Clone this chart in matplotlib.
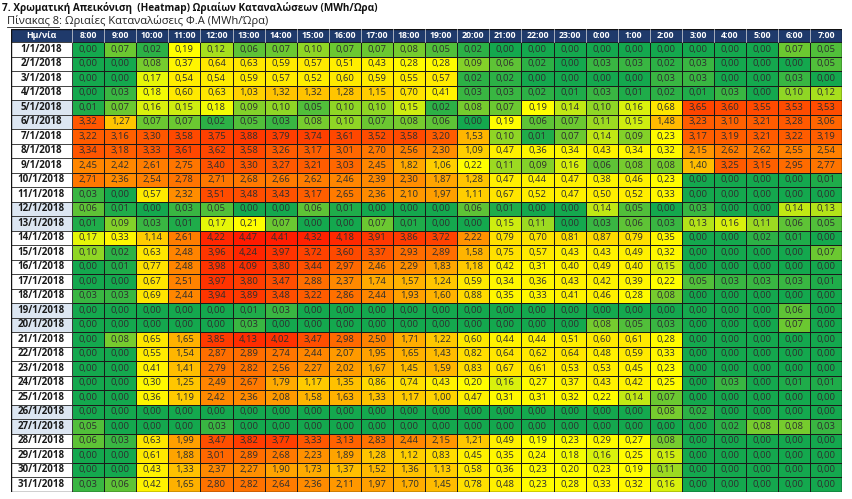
import matplotlib
matplotlib.use("Agg")
import matplotlib.pyplot as plt
import numpy as np
from matplotlib.colors import LinearSegmentedColormap, TwoSlopeNorm
from matplotlib.lines import Line2D

plt.rcParams['font.family'] = ['Open Sans', 'DejaVu Sans']

title = "7. Χρωματική Απεικόνιση  (Heatmap) Ωριαίων Καταναλώσεων (MWh/Ώρα)"
subtitle_a = "Πίνακας 8"
subtitle_b = ": Ωριαίες Καταναλώσεις Φ.Α (MWh/Ώρα)"
date_header = "Ημ/νία"

hours = ["8:00", "9:00", "10:00", "11:00", "12:00", "13:00", "14:00", "15:00",
         "16:00", "17:00", "18:00", "19:00", "20:00", "21:00", "22:00", "23:00",
         "0:00", "1:00", "2:00", "3:00", "4:00", "5:00", "6:00", "7:00"]

dates = [f"{d}/1/2018" for d in range(1, 32)]
shaded_dates = ["5/1/2018", "6/1/2018", "12/1/2018", "13/1/2018",
                "19/1/2018", "20/1/2018", "26/1/2018", "27/1/2018"]

values = [
    [0.00, 0.07, 0.02, 0.19, 0.12, 0.06, 0.07, 0.10, 0.07, 0.07, 0.08, 0.05, 0.02, 0.00, 0.00, 0.00, 0.00, 0.00, 0.00, 0.00, 0.00, 0.00, 0.07, 0.05],
    [0.00, 0.00, 0.08, 0.37, 0.64, 0.63, 0.59, 0.57, 0.51, 0.43, 0.28, 0.28, 0.09, 0.06, 0.02, 0.00, 0.03, 0.03, 0.02, 0.03, 0.00, 0.00, 0.00, 0.05],
    [0.00, 0.00, 0.17, 0.54, 0.54, 0.59, 0.57, 0.52, 0.60, 0.59, 0.55, 0.57, 0.02, 0.02, 0.00, 0.00, 0.00, 0.00, 0.03, 0.03, 0.00, 0.00, 0.03, 0.00],
    [0.00, 0.03, 0.18, 0.60, 0.63, 1.03, 1.32, 1.32, 1.28, 1.15, 0.70, 0.41, 0.03, 0.03, 0.02, 0.01, 0.03, 0.01, 0.02, 0.01, 0.03, 0.00, 0.10, 0.12],
    [0.01, 0.07, 0.16, 0.15, 0.18, 0.09, 0.10, 0.05, 0.10, 0.10, 0.15, 0.02, 0.08, 0.07, 0.19, 0.14, 0.10, 0.16, 0.68, 3.65, 3.60, 3.55, 3.53, 3.53],
    [3.32, 1.27, 0.07, 0.07, 0.02, 0.05, 0.03, 0.08, 0.10, 0.07, 0.08, 0.06, 0.00, 0.19, 0.06, 0.07, 0.11, 0.15, 1.48, 3.23, 3.10, 3.21, 3.28, 3.06],
    [3.22, 3.16, 3.30, 3.58, 3.75, 3.88, 3.79, 3.74, 3.61, 3.52, 3.58, 3.20, 1.53, 0.10, 0.01, 0.07, 0.14, 0.09, 0.23, 3.17, 3.19, 3.21, 3.22, 3.19],
    [3.34, 3.18, 3.33, 3.61, 3.62, 3.58, 3.26, 3.17, 3.01, 2.70, 2.56, 2.30, 1.09, 0.47, 0.36, 0.34, 0.43, 0.34, 0.32, 2.15, 2.62, 2.62, 2.55, 2.54],
    [2.45, 2.42, 2.61, 2.75, 3.40, 3.30, 3.27, 3.21, 3.03, 2.45, 1.82, 1.06, 0.22, 0.11, 0.09, 0.16, 0.06, 0.08, 0.08, 1.40, 3.25, 3.15, 2.95, 2.77],
    [2.71, 2.36, 2.54, 2.78, 2.71, 2.68, 2.66, 2.62, 2.46, 2.39, 2.30, 1.87, 1.28, 0.47, 0.44, 0.47, 0.38, 0.46, 0.23, 0.00, 0.00, 0.00, 0.00, 0.01],
    [0.03, 0.00, 0.57, 2.32, 3.51, 3.48, 3.43, 3.17, 2.65, 2.36, 2.10, 1.97, 1.11, 0.67, 0.52, 0.47, 0.50, 0.52, 0.33, 0.00, 0.00, 0.00, 0.00, 0.00],
    [0.06, 0.01, 0.00, 0.03, 0.05, 0.00, 0.00, 0.06, 0.01, 0.00, 0.00, 0.00, 0.06, 0.01, 0.00, 0.00, 0.14, 0.05, 0.00, 0.03, 0.00, 0.00, 0.14, 0.13],
    [0.01, 0.09, 0.03, 0.01, 0.17, 0.21, 0.07, 0.00, 0.00, 0.07, 0.01, 0.00, 0.00, 0.15, 0.11, 0.00, 0.03, 0.06, 0.03, 0.13, 0.16, 0.11, 0.06, 0.05],
    [0.17, 0.33, 1.14, 2.61, 4.22, 4.47, 4.41, 4.32, 4.18, 3.91, 3.86, 3.72, 2.22, 0.79, 0.70, 0.81, 0.87, 0.79, 0.35, 0.00, 0.00, 0.02, 0.01, 0.00],
    [0.10, 0.02, 0.63, 2.48, 3.96, 4.24, 3.97, 3.72, 3.60, 3.37, 2.93, 2.89, 1.58, 0.75, 0.57, 0.43, 0.43, 0.49, 0.32, 0.00, 0.00, 0.00, 0.00, 0.07],
    [0.00, 0.01, 0.77, 2.48, 3.98, 4.09, 3.80, 3.44, 2.97, 2.46, 2.29, 1.83, 1.18, 0.42, 0.31, 0.40, 0.49, 0.40, 0.15, 0.00, 0.00, 0.00, 0.00, 0.00],
    [0.00, 0.00, 0.67, 2.51, 3.97, 3.80, 3.47, 2.88, 2.37, 1.74, 1.57, 1.24, 0.59, 0.34, 0.36, 0.43, 0.42, 0.39, 0.22, 0.05, 0.03, 0.03, 0.03, 0.01],
    [0.03, 0.03, 0.69, 2.44, 3.94, 3.89, 3.48, 3.22, 2.86, 2.44, 1.93, 1.60, 0.88, 0.35, 0.33, 0.41, 0.46, 0.28, 0.08, 0.00, 0.00, 0.00, 0.00, 0.00],
    [0.00, 0.00, 0.00, 0.00, 0.00, 0.01, 0.03, 0.00, 0.00, 0.00, 0.00, 0.00, 0.00, 0.00, 0.00, 0.00, 0.00, 0.00, 0.00, 0.00, 0.00, 0.00, 0.06, 0.00],
    [0.00, 0.00, 0.00, 0.00, 0.00, 0.03, 0.00, 0.00, 0.00, 0.00, 0.00, 0.00, 0.00, 0.00, 0.00, 0.00, 0.08, 0.05, 0.03, 0.00, 0.00, 0.00, 0.07, 0.00],
    [0.00, 0.08, 0.65, 1.65, 3.85, 4.13, 4.02, 3.47, 2.98, 2.50, 1.71, 1.22, 0.60, 0.44, 0.44, 0.51, 0.60, 0.61, 0.28, 0.00, 0.00, 0.00, 0.00, 0.00],
    [0.00, 0.00, 0.55, 1.54, 2.87, 2.89, 2.74, 2.44, 2.07, 1.95, 1.65, 1.43, 0.82, 0.64, 0.62, 0.64, 0.48, 0.59, 0.33, 0.00, 0.00, 0.00, 0.00, 0.00],
    [0.00, 0.00, 0.41, 1.41, 2.79, 2.82, 2.56, 2.27, 2.02, 1.67, 1.45, 1.59, 0.83, 0.67, 0.61, 0.53, 0.53, 0.45, 0.23, 0.00, 0.00, 0.00, 0.00, 0.00],
    [0.00, 0.00, 0.30, 1.25, 2.49, 2.67, 1.79, 1.17, 1.35, 0.86, 0.74, 0.43, 0.20, 0.16, 0.27, 0.37, 0.43, 0.42, 0.25, 0.00, 0.03, 0.00, 0.01, 0.01],
    [0.00, 0.00, 0.36, 1.19, 2.42, 2.36, 2.08, 1.58, 1.63, 1.33, 1.17, 1.00, 0.47, 0.31, 0.31, 0.32, 0.22, 0.14, 0.07, 0.00, 0.00, 0.00, 0.00, 0.00],
    [0.00, 0.00, 0.00, 0.00, 0.00, 0.00, 0.00, 0.00, 0.00, 0.00, 0.00, 0.00, 0.00, 0.00, 0.00, 0.00, 0.00, 0.00, 0.08, 0.02, 0.00, 0.00, 0.00, 0.00],
    [0.05, 0.00, 0.00, 0.00, 0.03, 0.00, 0.00, 0.00, 0.00, 0.00, 0.00, 0.00, 0.00, 0.00, 0.00, 0.00, 0.00, 0.00, 0.00, 0.00, 0.02, 0.08, 0.08, 0.03],
    [0.06, 0.03, 0.63, 1.99, 3.47, 3.82, 3.77, 3.33, 3.13, 2.83, 2.44, 2.15, 1.21, 0.49, 0.19, 0.23, 0.29, 0.27, 0.08, 0.00, 0.00, 0.00, 0.00, 0.00],
    [0.00, 0.00, 0.61, 1.88, 3.01, 2.89, 2.68, 2.23, 1.89, 1.28, 1.12, 0.83, 0.45, 0.35, 0.24, 0.18, 0.16, 0.25, 0.15, 0.00, 0.00, 0.00, 0.00, 0.00],
    [0.00, 0.00, 0.43, 1.33, 2.37, 2.27, 1.90, 1.73, 1.37, 1.52, 1.36, 1.13, 0.58, 0.36, 0.23, 0.20, 0.23, 0.19, 0.11, 0.00, 0.00, 0.00, 0.00, 0.00],
    [0.03, 0.06, 0.42, 1.65, 2.80, 2.82, 2.64, 2.36, 2.11, 1.97, 1.70, 1.45, 0.78, 0.48, 0.23, 0.28, 0.33, 0.32, 0.16, 0.00, 0.00, 0.00, 0.00, 0.00],
]

# ---------------- layout / style ----------------
W, H, DPI = 852, 499, 100
DATE_W = 61.5
COL_W = 32.1
HEAD_H = 13.0
ROW_H = 14.5
TAB_LEFT, TAB_TOP = 10.5, 29.0

data = np.array(values)
n_rows, n_cols = data.shape
tab_w = DATE_W + n_cols * COL_W
tab_h = HEAD_H + n_rows * ROW_H

fig = plt.figure(figsize=(W / DPI, H / DPI), dpi=DPI)
fig.patch.set_facecolor("white")
ax = fig.add_axes([TAB_LEFT / W, 1 - (TAB_TOP + tab_h) / H, tab_w / W, tab_h / H])
ax.set_xlim(0, tab_w)
ax.set_ylim(tab_h, 0)
ax.axis("off")

cmap = LinearSegmentedColormap.from_list(
    "gyr", [(0.0, "#14A84E"), (0.5, "#FFFF00"), (1.0, "#FF1A00")])
norm = TwoSlopeNorm(vmin=0.0, vcenter=0.19, vmax=data.max())

x_edges = DATE_W + COL_W * np.arange(n_cols + 1)
y_edges = HEAD_H + ROW_H * np.arange(n_rows + 1)
ax.pcolormesh(x_edges, y_edges, data, cmap=cmap, norm=norm,
              edgecolors="#1a1a1a", linewidth=0.5)

# header
header_color = "#1F3A6B"
ax.add_patch(plt.Rectangle((0, 0), tab_w, HEAD_H, facecolor=header_color,
                           edgecolor="#1a1a1a", linewidth=0.5))
ax.text(DATE_W / 2, HEAD_H / 2, date_header, color="white", fontsize=6.3,
        fontweight="bold", ha="center", va="center")
for j, h in enumerate(hours):
    xc = DATE_W + COL_W * (j + 0.5)
    ax.text(xc, HEAD_H / 2, h, color="white", fontsize=6.3, fontweight="bold",
            ha="center", va="center")
    ax.plot([DATE_W + COL_W * j] * 2, [0, HEAD_H], color="#dddddd", lw=0.5)

# date column
for i, d in enumerate(dates):
    y0 = HEAD_H + ROW_H * i
    fc = "#DCE6F2" if d in shaded_dates else "white"
    ax.add_patch(plt.Rectangle((0, y0), DATE_W, ROW_H, facecolor=fc,
                               edgecolor="#1a1a1a", linewidth=0.5))
    ax.text(DATE_W / 2, y0 + ROW_H / 2, d, fontsize=7, fontweight="bold",
            color="#1a1a1a", ha="center", va="center")

# values
for i in range(n_rows):
    for j in range(n_cols):
        v = data[i, j]
        ax.text(DATE_W + COL_W * (j + 0.5), HEAD_H + ROW_H * (i + 0.5),
                f"{v:.2f}".replace(".", ","), fontsize=6.8, color="#2e2e2e",
                ha="center", va="center")

ax.add_patch(plt.Rectangle((0, 0), tab_w, tab_h, fill=False,
                           edgecolor="#111111", linewidth=1.0))

# titles
fig.text(2 / W, 1 - 7.5 / H, title, fontsize=7.2, fontweight="bold",
         ha="left", va="center", color="#111111")
t1 = fig.text(7 / W, 1 - 21 / H, subtitle_a, fontsize=8, ha="left",
              va="center", color="#222222")
fig.canvas.draw()
bb = t1.get_window_extent()
fig.text(bb.x1 / W, 1 - 21 / H, subtitle_b, fontsize=8, ha="left",
         va="center", color="#222222")
fig.add_artist(Line2D([bb.x0 / W, bb.x1 / W], [(bb.y0 - 0.5) / H] * 2,
                      color="#222222", lw=0.6, transform=fig.transFigure))

fig.savefig("out.png", dpi=DPI)
